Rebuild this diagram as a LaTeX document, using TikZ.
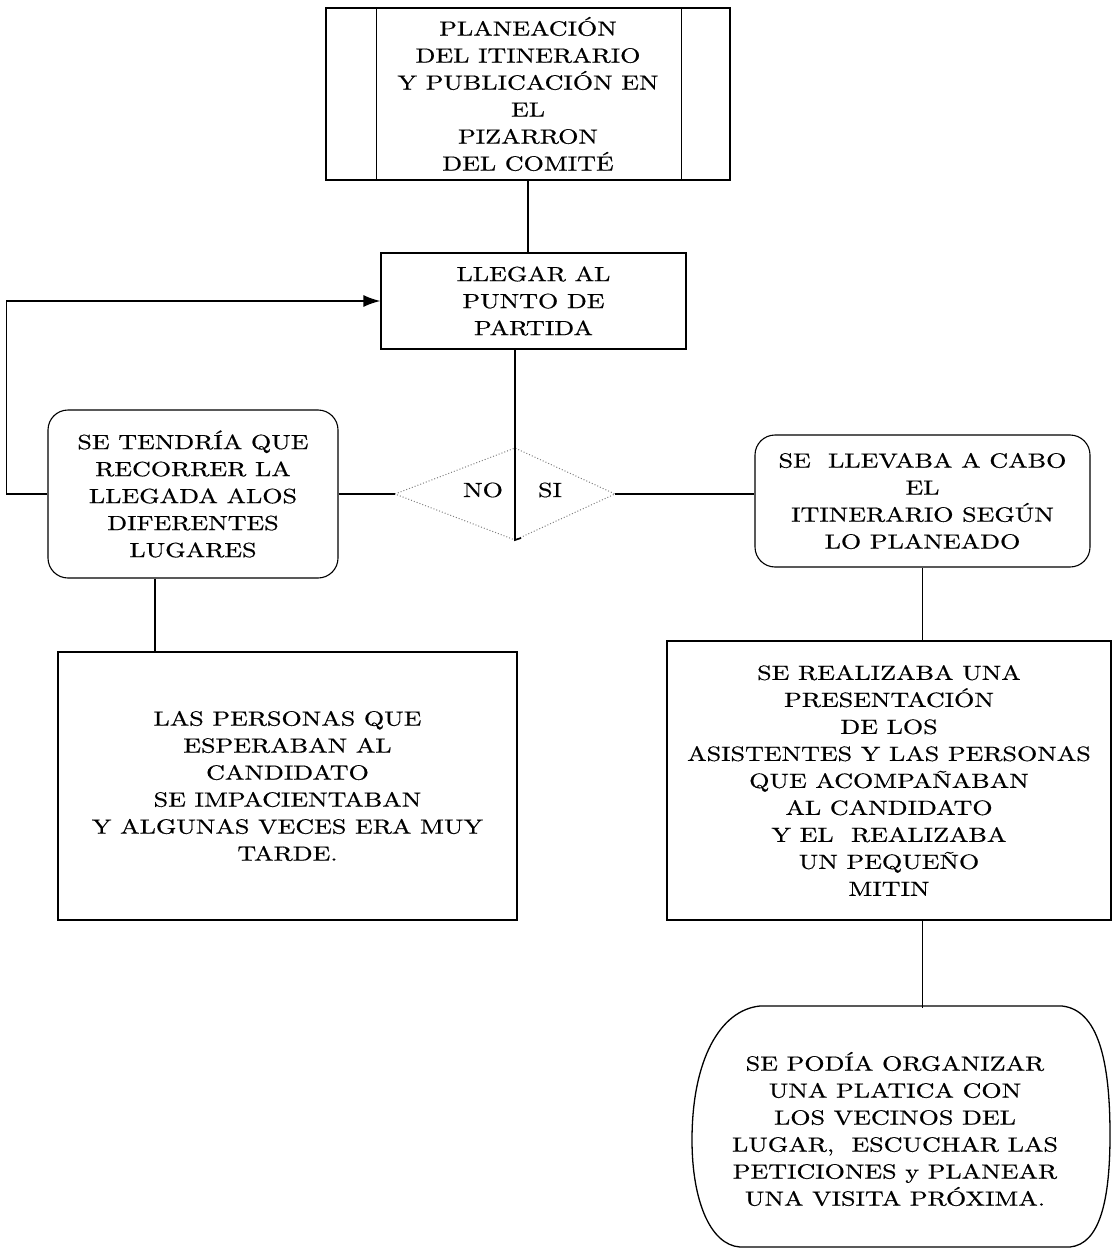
\documentclass[tikz,border=0pt]{standalone}
\usepackage{fontspec}
\setmainfont{lmroman10-regular.otf}[FakeStretch=1.27,FakeBold=0.6]
\usetikzlibrary{arrows.meta,calc}
\tikzset{
  txt/.style={font=\fontsize{20.5}{27}\selectfont, align=center, inner sep=0pt},
  boxa/.style={txt, draw, line width=1.4pt, rectangle},
  rbox/.style={txt, draw, line width=1.1pt, rectangle, rounded corners=20pt},
  conn/.style={line width=1.6pt},
  dec/.style={gray, dotted, line width=1pt}
}
\begin{document}
\begin{tikzpicture}[x=1pt,y=-1pt]
\useasboundingbox (0,0) rectangle (1112,1249);
% top predefined process
\node[boxa, minimum width=404pt, minimum height=172pt] (top) at (528,94)
  {PLANEACIÓN\\DEL ITINERARIO\\Y PUBLICACIÓN EN\\EL\\PIZARRON\\DEL COMITÉ};
\draw[line width=1.2pt] ([xshift=51pt]top.north west) -- ([xshift=51pt]top.south west);
\draw[line width=1.2pt] ([xshift=-49pt]top.north east) -- ([xshift=-49pt]top.south east);
% llegar
\node[boxa, line width=1.2pt, minimum width=305pt, minimum height=96pt] (llegar) at (533.5,301)
  {LLEGAR AL\\PUNTO DE\\PARTIDA};
\draw[conn] (top.south) -- (top.south |- llegar.north);
% decision
\coordinate (dl) at (395,494);
\coordinate (dt) at (515,448);
\coordinate (dr) at (615,494);
\coordinate (db) at (515,540);
\draw[dec] (dl) -- (dt) -- (dr) -- (db) -- cycle;
\draw[conn] (llegar.south -| dt) -- (db) -- ++(6,-2);
\node[txt] (no) at (483,490) {NO};
\node[txt] (si) at (550,490) {SI};
% left rounded box
\node[rbox, minimum width=290pt, minimum height=168pt] (tend) at (193,494)
  {SE TENDRÍA QUE\\RECORRER LA\\LLEGADA ALOS\\DIFERENTES\\LUGARES};
\draw[conn] (tend.east) -- (dl);
\draw[conn, -{Latex[length=17pt,width=12pt]}] (tend.west) -- ++(-41,0) |- (llegar.west);
% right rounded box
\node[rbox, minimum width=335pt, minimum height=132pt] (llev) at (922.5,501)
  {SE\ \ LLEVABA A CABO\\EL\\ITINERARIO SEGÚN\\LO PLANEADO};
\draw[conn] (dr) -- (dr -| llev.west);
% personas
\node[boxa, minimum width=459pt, minimum height=268pt] (pers) at (287.5,786)
  {LAS PERSONAS QUE\\ESPERABAN AL\\CANDIDATO\\SE IMPACIENTABAN\\Y ALGUNAS VECES ERA MUY\\TARDE.};
\draw[conn] ([xshift=-38pt]tend.south) -- ([xshift=-38pt]tend.south |- pers.north);
% realizaba
\node[boxa, minimum width=444pt, minimum height=279pt] (realiz) at (889,780.5)
  {SE REALIZABA UNA\\PRESENTACIÓN\\DE LOS\\ASISTENTES Y LAS PERSONAS\\QUE ACOMPAÑABAN\\AL CANDIDATO\\Y EL\ \ REALIZABA\\UN PEQUEÑO\\MITIN};
\draw[conn] (llev.south) -- (llev.south |- realiz.north);
% visit
\node[txt, minimum width=418pt, minimum height=241pt] (visit) at (895,1129)
  {SE PODÍA ORGANIZAR\\UNA PLATICA CON\\LOS VECINOS DEL\\LUGAR,\ \ ESCUCHAR LAS\\PETICIONES y PLANEAR\\UNA VISITA PRÓXIMA.};
\draw[line width=1.3pt] (760,1006) -- (1062,1006)
  .. controls (1098,1010) and (1110,1060) .. (1110,1135)
  .. controls (1110,1200) and (1100,1244) .. (1070,1247)
  -- (740,1247)
  .. controls (710,1245) and (692,1200) .. (692,1140)
  .. controls (692,1060) and (720,1010) .. (760,1006) -- cycle;
\draw[conn] (llev.south |- realiz.south) -- (llev.south |- visit.north);
\end{tikzpicture}
\end{document}
